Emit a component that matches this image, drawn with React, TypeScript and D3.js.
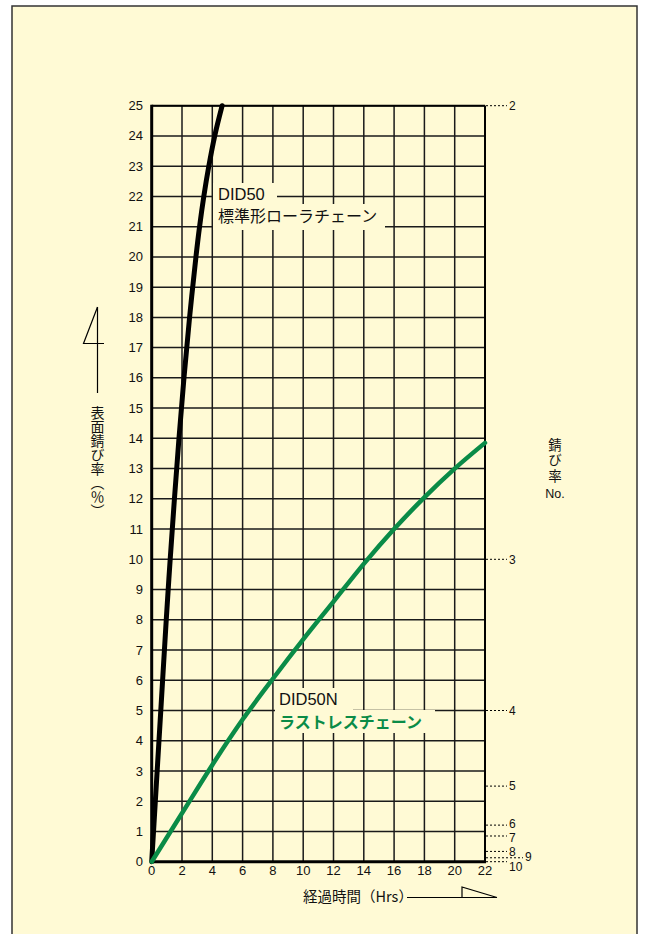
import { range, scaleLinear, line, curveCatmullRom } from 'd3'

// 錆び率の推移 — DID50 と DID50N の比較（経過時間 vs 表面錆び率）

const HOURS_STD = [0, 0.24, 0.6, 0.96, 1.22, 1.5, 1.8, 2.13, 2.5, 2.92, 3.16, 3.44, 3.77, 4.16, 4.65]
const RATE_STD = [0, 2, 5, 8, 10, 12, 14, 16, 18, 20, 21, 22, 23, 24, 25]

const HOURS_RL = [0, 2, 4, 6, 8, 10, 12, 14, 16, 18, 20, 22]
const RATE_RL = [0, 1.6, 3.2, 4.7, 6.05, 7.35, 8.6, 9.85, 11.0, 12.05, 13.0, 13.85]

const X_TICKS = range(0, 23, 2)
const Y_TICKS = range(0, 26, 1)

// 錆び率No. の目盛り（右側）
const RUST_NO = ['2', '3', '4', '5', '6', '7', '8', '9', '10']
const RUST_AT = [25, 10, 5, 2.5, 1.21, 0.85, 0.34, 0.13, 0]

const W = 647
const H = 934
const BG = '#fffad5'
const GREEN = '#0a8b47'
const FONT = "'Liberation Sans', Arial, 'Noto Sans CJK JP', sans-serif"
const JP = "'Noto Sans CJK JP', sans-serif"

export default function App() {
  const x = scaleLinear().domain([0, 22]).range([151.7, 485])
  const y = scaleLinear().domain([0, 25]).range([861.7, 105.7])

  const mk = (hs: number[], rs: number[]) =>
    line<[number, number]>()
      .x((d) => x(d[0]))
      .y((d) => y(d[1]))
      .curve(curveCatmullRom.alpha(0.5))(hs.map((h, i) => [h, rs[i]]))

  const x0 = x(0)
  const x1 = x(22)
  const yTop = y(25)
  const yBot = y(0)

  return (
    <svg width={W} height={H} style={{ position: 'absolute', left: 0, top: 0, fontFamily: FONT }}>
      <rect x={0} y={0} width={W} height={H} fill="#fff" />
      <rect x={12} y={6} width={625} height={H + 10} fill={BG} stroke="#333" strokeWidth={1.5} />

      {/* grid */}
      {Y_TICKS.map((t) => (
        <line key={'h' + t} x1={x0} x2={x1} y1={y(t)} y2={y(t)} stroke="#1a1a1a" strokeWidth={1.5} />
      ))}
      {X_TICKS.map((t) => (
        <line key={'v' + t} x1={x(t)} x2={x(t)} y1={yTop} y2={yBot} stroke="#1a1a1a" strokeWidth={1.5} />
      ))}
      <line x1={x0} x2={x0} y1={yTop - 1} y2={yBot + 1.5} stroke="#000" strokeWidth={3} />
      <line x1={x0 - 1.5} x2={x1 + 1} y1={yBot} y2={yBot} stroke="#000" strokeWidth={3} />
      <line x1={x1} x2={x1} y1={yTop} y2={yBot} stroke="#000" strokeWidth={2} />
      <line x1={x0} x2={x1} y1={yTop} y2={yTop} stroke="#000" strokeWidth={2} />

      {/* left ticks */}
      {Y_TICKS.map((t) => (
        <text key={'yl' + t} x={143} y={y(t)} dy="0.35em" textAnchor="end" fontSize={13} fill="#111">
          {t}
        </text>
      ))}
      {/* bottom ticks */}
      {X_TICKS.map((t) => (
        <text key={'xl' + t} x={x(t)} y={875} textAnchor="middle" fontSize={13} fill="#111">
          {t}
        </text>
      ))}

      {/* right rust no. ticks */}
      {RUST_NO.map((n, i) => {
        const yy = y(RUST_AT[i])
        const end = n === '9' ? 523 : 507
        let lx = 509
        let ly = yy
        if (n === '6') ly = yy - 1.5
        if (n === '7') ly = yy + 1.5
        if (n === '9') {
          lx = 525
          ly = yy - 1
        }
        if (n === '10') ly = yy + 5
        return (
          <g key={'r' + n}>
            <line x1={x1 + 1} x2={end} y1={yy} y2={yy} stroke="#000" strokeWidth={1} strokeDasharray="2,2" />
            <text x={lx} y={ly} dy="0.35em" fontSize={12} fill="#111">
              {n}
            </text>
          </g>
        )
      })}

      {/* curves */}
      <path d={mk(HOURS_STD, RATE_STD) ?? ''} fill="none" stroke="#000" strokeWidth={5} strokeLinecap="round" />
      <path d={mk(HOURS_RL, RATE_RL) ?? ''} fill="none" stroke={GREEN} strokeWidth={4.5} strokeLinecap="round" />

      {/* curve labels */}
      <rect x={213} y={183} width={64} height={21} fill={BG} />
      <rect x={213} y={204} width={172} height={26} fill={BG} />
      <text x={218} y={200} fontSize={16.5} fill="#111">DID50</text>
      <text x={218} y={222} fontSize={16} fill="#111" fontFamily={JP}>標準形ローラチェーン</text>

      <rect x={275} y={688} width={78} height={22} fill={BG} />
      <rect x={275} y={710} width={160} height={23} fill={BG} />
      <text x={279} y={705} fontSize={16.5} fill="#111">DID50N</text>
      <text x={279} y={728} fontSize={16} fontWeight="bold" fill={GREEN} fontFamily={JP}>ラストレスチェーン</text>

      {/* y axis title */}
      <line x1={97.5} x2={97.5} y1={307} y2={393} stroke="#000" strokeWidth={1.2} />
      <polyline points="97.5,307 83.5,343.5 104,343.5" fill="none" stroke="#000" strokeWidth={1.2} />
      <text
        x={97.5}
        y={406}
        fontSize={14}
        fill="#111"
        fontFamily={JP}
        style={{ writingMode: 'vertical-rl' }}
      >
        表面錆び率（％）
      </text>

      {/* x axis title */}
      <text x={303} y={902} fontSize={14.5} fill="#111" fontFamily={JP}>経過時間（Hrs）</text>
      <line x1={407} x2={497} y1={897.5} y2={897.5} stroke="#000" strokeWidth={1.2} />
      <polyline points="497,897.5 462,887 462,897.5" fill="none" stroke="#000" strokeWidth={1.2} />

      {/* right axis title */}
      <text
        x={555}
        y={438}
        fontSize={13.5}
        fill="#111"
        fontFamily={JP}
        letterSpacing={2}
        style={{ writingMode: 'vertical-rl' }}
      >
        錆び率
      </text>
      <text x={555} y={494} dy="0.35em" textAnchor="middle" fontSize={12.5} fill="#111">No.</text>
    </svg>
  )
}
